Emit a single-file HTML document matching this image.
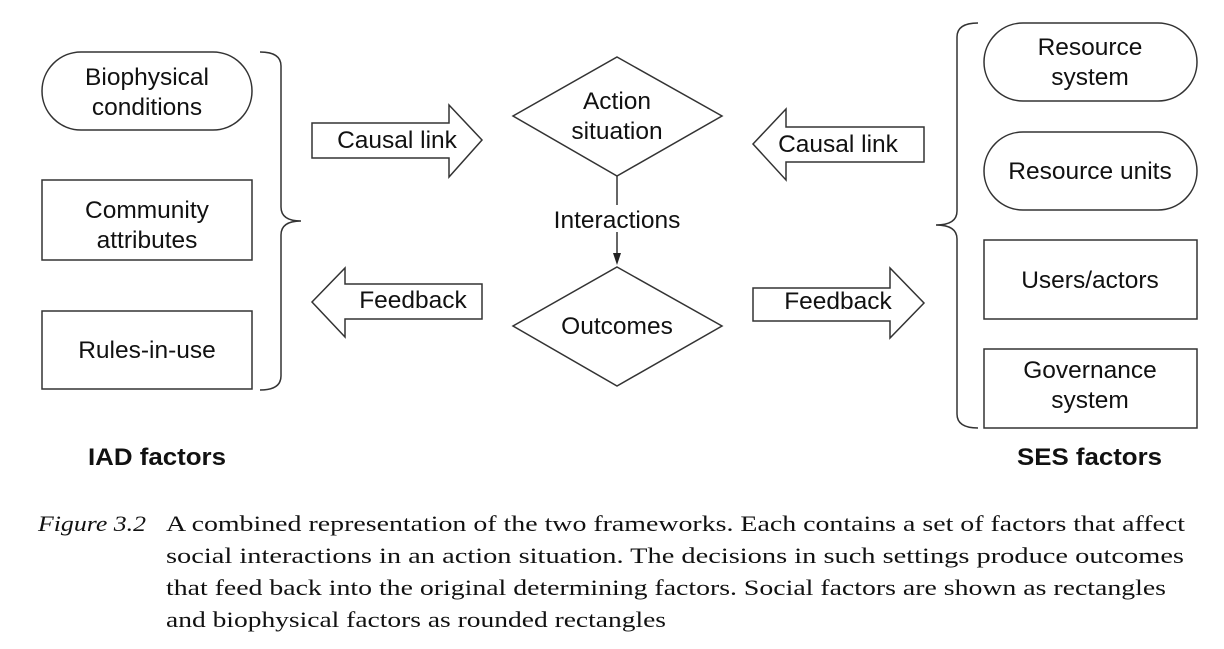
<!DOCTYPE html>
<html><head><meta charset="utf-8"><style>
html,body{margin:0;padding:0;background:#fff;}
svg{display:block;}
.t{font-family:"Liberation Sans",sans-serif;font-size:24.5px;fill:#111;}
.b{font-family:"Liberation Sans",sans-serif;font-size:24px;font-weight:bold;fill:#111;}
.c{font-family:"Liberation Serif",serif;font-size:22.5px;fill:#111;}
</style></head><body>
<svg width="1224" height="649" viewBox="0 0 1224 649">
<g fill="none" stroke="#333" stroke-width="1.5">
<rect x="42" y="52" width="210" height="78" rx="39"/>
<rect x="42" y="180" width="210" height="80"/>
<rect x="42" y="311" width="210" height="78"/>
<path d="M260 52 Q281 52 281 66 L281 207 Q281 221 301 221 Q281 221 281 235 L281 376 Q281 390 260 390"/>
<path d="M978 23 Q957 23 957 37 L957 211 Q957 225 936 225 Q957 225 957 239 L957 414 Q957 428 978 428"/>
<rect x="984" y="23" width="213" height="78" rx="39"/>
<rect x="984" y="132" width="213" height="78" rx="39"/>
<rect x="984" y="240" width="213" height="79"/>
<rect x="984" y="349" width="213" height="79"/>
<polygon points="617,57 722,116 617,176 513,116"/>
<polygon points="617,267 722,326 617,386 513,326"/>
<polygon points="312,123 449,123 449,105 482,140 449,177 449,158 312,158"/>
<polygon points="482,284 345,284 345,268 312,302 345,337 345,319 482,319"/>
<polygon points="924,127 786,127 786,109 753,144 786,180 786,162 924,162"/>
<polygon points="753,288 890,288 890,268 924,303 890,338 890,321 753,321"/>
<line x1="617" y1="176" x2="617" y2="205"/>
<line x1="617" y1="232" x2="617" y2="258"/>
</g>
<polygon points="613,253 621,253 617,265" fill="#222"/>
<g class="t" text-anchor="middle">
<text x="147" y="85">Biophysical</text>
<text x="147" y="115">conditions</text>
<text x="147" y="218">Community</text>
<text x="147" y="248">attributes</text>
<text x="147" y="358">Rules-in-use</text>
<text x="397" y="148">Causal link</text>
<text x="413" y="308">Feedback</text>
<text x="617" y="109">Action</text>
<text x="617" y="139">situation</text>
<text x="617" y="228">Interactions</text>
<text x="617" y="334">Outcomes</text>
<text x="838" y="152">Causal link</text>
<text x="838" y="309">Feedback</text>
<text x="1090" y="55">Resource</text>
<text x="1090" y="85">system</text>
<text x="1090" y="179">Resource units</text>
<text x="1090" y="288">Users/actors</text>
<text x="1090" y="378">Governance</text>
<text x="1090" y="408">system</text>
</g>
<text class="b" x="88" y="465" textLength="138" lengthAdjust="spacingAndGlyphs">IAD factors</text>
<text class="b" x="1017" y="465" textLength="145" lengthAdjust="spacingAndGlyphs">SES factors</text>
<text class="c" x="38" y="531" font-style="italic" textLength="108" lengthAdjust="spacingAndGlyphs">Figure 3.2</text>
<text class="c" x="166" y="531" textLength="1019" lengthAdjust="spacingAndGlyphs">A combined representation of the two frameworks. Each contains a set of factors that affect</text>
<text class="c" x="166" y="563" textLength="1018" lengthAdjust="spacingAndGlyphs">social interactions in an action situation. The decisions in such settings produce outcomes</text>
<text class="c" x="166" y="595" textLength="1000" lengthAdjust="spacingAndGlyphs">that feed back into the original determining factors. Social factors are shown as rectangles</text>
<text class="c" x="166" y="627" textLength="500" lengthAdjust="spacingAndGlyphs">and biophysical factors as rounded rectangles</text>
</svg>
</body></html>
